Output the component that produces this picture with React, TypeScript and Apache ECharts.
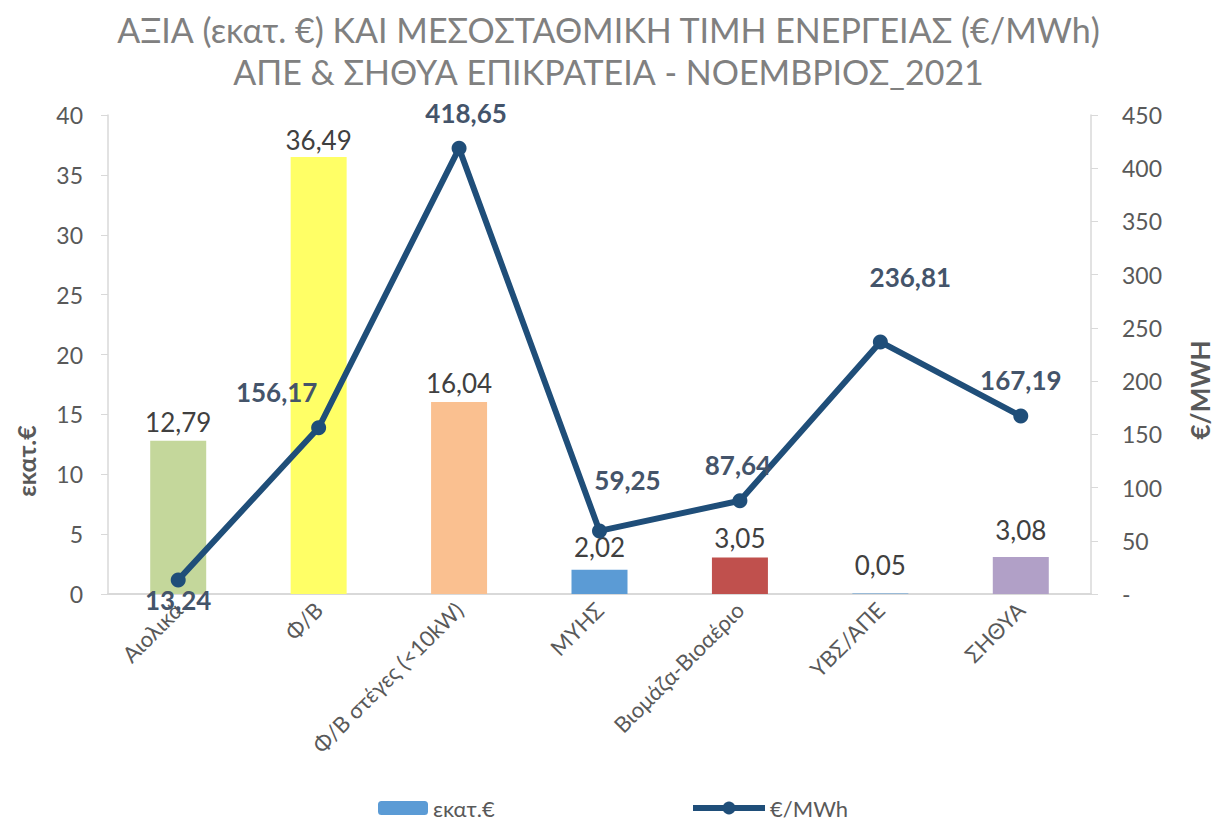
import React, { useEffect, useRef } from "react";
import * as echarts from "echarts";

const categories = ["Αιολικά", "Φ/Β", "Φ/Β στέγες (<10kW)", "ΜΥΗΣ", "Βιομάζα-Βιοαέριο", "ΥΒΣ/ΑΠΕ", "ΣΗΘΥΑ"];
const valueMillions = [12.79, 36.49, 16.04, 2.02, 3.05, 0.05, 3.08];
const pricePerMWh = [13.24, 156.17, 418.65, 59.25, 87.64, 236.81, 167.19];
const barColors = ["#c4d79b", "#ffff66", "#fac090", "#5b9bd5", "#c0504d", "#5b9bd5", "#b1a0c7"];
const barLabelDistance = [6, 4, 6, 10, 6, 15, 14];
const lineLabelOffsets: [number, number][] = [
  [0, 20],
  [-42, -36],
  [7, -35],
  [28, -51],
  [-2, -36],
  [30, -65],
  [0, -36],
];
const leftTicks = { min: 0, max: 40, interval: 5 };
const rightTicks = { min: 0, max: 450, interval: 50 };

const FONT = "Lato, 'Open Sans', sans-serif";
const fmt = (v: number) => v.toFixed(2).replace(".", ",");

export default function App() {
  const ref = useRef<HTMLDivElement>(null);
  useEffect(() => {
    if (!ref.current) return;
    const chart = echarts.init(ref.current, null, { renderer: "svg" });
    chart.setOption({
      animation: false,
      backgroundColor: "#ffffff",
      textStyle: { fontFamily: FONT },
      title: {
        text: "ΑΞΙΑ (εκατ. €) ΚΑΙ ΜΕΣΟΣΤΑΘΜΙΚΗ ΤΙΜΗ ΕΝΕΡΓΕΙΑΣ (€/MWh)\nΑΠΕ & ΣΗΘΥΑ ΕΠΙΚΡΑΤΕΙΑ - ΝΟΕΜΒΡΙΟΣ_2021",
        left: "center",
        top: 3,
        textStyle: {
          fontFamily: FONT,
          fontSize: 34,
          fontWeight: "normal",
          color: "#808080",
          lineHeight: 42,
        },
      },
      grid: { left: 108, right: 126, top: 115, bottom: 226, containLabel: false },
      legend: [
        {
          data: ["εκατ.€"],
          left: 373,
          top: 792,
          itemWidth: 50,
          itemHeight: 14,
          itemGap: 6,
          textStyle: { fontFamily: FONT, fontSize: 22, color: "#595959" },
        },
        {
          data: ["€/MWh"],
          left: 685,
          top: 792,
          itemWidth: 72,
          itemHeight: 16,
          lineStyle: { width: 6 },
          textStyle: { fontFamily: FONT, fontSize: 22, color: "#595959" },
        },
      ],
      xAxis: {
        type: "category",
        data: categories,
        axisLine: { show: true, lineStyle: { color: "#d9d9d9", width: 2 } },
        axisTick: { show: false },
        axisLabel: {
          rotate: 45,
          interval: 0,
          margin: 12,
          fontFamily: FONT,
          fontSize: 22,
          color: "#595959",
        },
      },
      yAxis: [
        {
          type: "value",
          ...leftTicks,
          position: "left",
          splitLine: { show: false },
          axisLine: { show: true, lineStyle: { color: "#d9d9d9", width: 1.5 } },
          axisTick: { show: true, length: 7, lineStyle: { color: "#d9d9d9" } },
          axisLabel: { margin: 25, fontFamily: FONT, fontSize: 23, color: "#595959" },
        },
        {
          type: "value",
          ...rightTicks,
          position: "right",
          splitLine: { show: false },
          axisLine: { show: true, lineStyle: { color: "#d9d9d9", width: 1.5 } },
          axisTick: { show: true, length: 7, lineStyle: { color: "#d9d9d9" } },
          axisLabel: {
            margin: 31,
            fontFamily: FONT,
            fontSize: 23,
            color: "#595959",
            formatter: (v: number) => (v === 0 ? "-" : String(v)),
          },
        },
      ],
      graphic: [
        {
          type: "text",
          x: 26,
          y: 461,
          rotation: Math.PI / 2,
          style: {
            text: "εκατ.€",
            font: `bold 25px ${FONT}`,
            fill: "#595959",
            textAlign: "center",
            textVerticalAlign: "middle",
          },
        },
        {
          type: "text",
          x: 1200,
          y: 390,
          rotation: Math.PI / 2,
          style: {
            text: "€/MWH",
            font: `bold 26px ${FONT}`,
            fill: "#595959",
            textAlign: "center",
            textVerticalAlign: "middle",
          },
        },
      ],
      series: [
        {
          name: "εκατ.€",
          type: "bar",
          yAxisIndex: 0,
          barWidth: 56,
          itemStyle: { color: "#5b9bd5" },
          data: valueMillions.map((v, i) => ({
            value: v,
            itemStyle: { color: barColors[i] },
            label: { distance: barLabelDistance[i] },
          })),
          label: {
            show: true,
            position: "top",
            fontFamily: FONT,
            fontSize: 26,
            color: "#404040",
            formatter: (p: any) => fmt(p.value),
          },
        },
        {
          name: "€/MWh",
          type: "line",
          yAxisIndex: 1,
          symbol: "circle",
          symbolSize: 15,
          lineStyle: { color: "#1f4e79", width: 6 },
          itemStyle: { color: "#1f4e79" },
          data: pricePerMWh.map((v, i) => ({
            value: v,
            label: { offset: lineLabelOffsets[i] },
          })),
          label: {
            show: true,
            position: "inside",
            fontFamily: FONT,
            fontSize: 26,
            fontWeight: "bold",
            color: "#44546a",
            formatter: (p: any) => fmt(p.value),
          },
          z: 5,
        },
      ],
    });
    return () => chart.dispose();
  }, []);
  return (
    <div
      ref={ref}
      style={{ position: "fixed", left: 0, top: 0, width: 1217, height: 820, background: "#fff" }}
    />
  );
}
